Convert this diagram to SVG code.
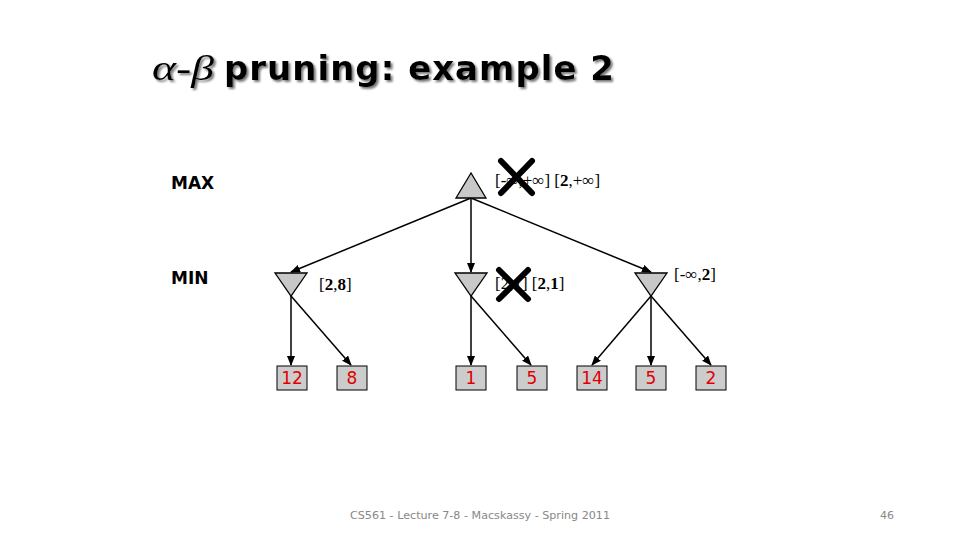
<svg xmlns="http://www.w3.org/2000/svg" width="960" height="540" viewBox="0 0 960 540">
<defs>
<marker id="ah" markerWidth="10" markerHeight="8" refX="9" refY="4" orient="auto" markerUnits="userSpaceOnUse">
<path d="M0,0 L10,4 L0,8 Z" fill="#000"/>
</marker>
<filter id="sh" x="-10%" y="-30%" width="120%" height="160%">
<feGaussianBlur in="SourceAlpha" stdDeviation="1"/>
<feOffset dx="2" dy="2" result="b"/>
<feFlood flood-color="#777"/>
<feComposite in2="b" operator="in" result="s"/>
<feMerge><feMergeNode in="s"/><feMergeNode in="SourceGraphic"/></feMerge>
</filter>
</defs>
<style>
.edge{stroke:#000;stroke-width:1.5;fill:none;marker-end:url(#ah)}
.tri{fill:#c8c8c8;stroke:#000;stroke-width:1.3}
.box{fill:#cccccc;stroke:#000;stroke-width:1}
.leaf{font-family:"DejaVu Sans",Verdana,sans-serif;font-size:17px;fill:#e00000;text-anchor:middle}
.lbl{font-family:"Liberation Serif","Times New Roman",serif;font-size:17px;fill:#000}
.side{font-family:"DejaVu Sans",Verdana,sans-serif;font-weight:bold;font-size:17px;fill:#000}
.x{stroke:#000;stroke-width:6;stroke-linecap:round}
.foot{font-family:"DejaVu Sans",Verdana,sans-serif;font-size:11px;fill:#888}
</style>
<rect width="960" height="540" fill="#fff"/>
<g id="title" filter="url(#sh)">
<text x="152" y="80" font-family="Liberation Serif,serif" font-style="italic" font-size="36" textLength="62" lengthAdjust="spacingAndGlyphs" fill="#000">α-β</text>
<text x="224" y="80" font-family="DejaVu Sans,Verdana,sans-serif" font-weight="bold" font-size="34" textLength="390" fill="#000">pruning: example 2</text>
</g>
<text class="side" x="171" y="189">MAX</text>
<text class="side" x="171" y="284">MIN</text>
<g id="connectors">
<line class="edge" x1="471" y1="198" x2="291" y2="272"/>
<line class="edge" x1="471" y1="198" x2="471" y2="272"/>
<line class="edge" x1="471" y1="198" x2="651" y2="272"/>
<line class="edge" x1="291" y1="296" x2="291" y2="365"/>
<line class="edge" x1="291" y1="296" x2="351" y2="365"/>
<line class="edge" x1="471" y1="296" x2="471" y2="365"/>
<line class="edge" x1="471" y1="296" x2="531" y2="365"/>
<line class="edge" x1="651" y1="296" x2="592" y2="365"/>
<line class="edge" x1="651" y1="296" x2="651" y2="365"/>
<line class="edge" x1="651" y1="296" x2="711" y2="365"/>
</g>
<g id="root">
<polygon class="tri" points="471,173 456,198 486,198"/>
<text class="lbl" x="495" y="186">[-∞,+∞] [<tspan font-weight="bold">2</tspan>,+∞]</text>
<line class="x" x1="501" y1="161" x2="532" y2="193"/>
<line class="x" x1="532" y1="161" x2="501" y2="193"/>
</g>
<g id="min1">
<polygon class="tri" points="275,273 307,273 291,296"/>
<text class="lbl" x="319" y="290">[<tspan font-weight="bold">2</tspan>,<tspan font-weight="bold">8</tspan>]</text>
</g>
<g id="min2">
<polygon class="tri" points="455,273 487,273 471,296"/>
<text class="lbl" x="495" y="289">[2,1] [<tspan font-weight="bold">2</tspan>,<tspan font-weight="bold">1</tspan>]</text>
<line class="x" x1="499" y1="270" x2="528" y2="299"/>
<line class="x" x1="528" y1="270" x2="499" y2="299"/>
</g>
<g id="min3">
<polygon class="tri" points="635,273 667,273 651,296"/>
<text class="lbl" x="674" y="280">[-∞,<tspan font-weight="bold">2</tspan>]</text>
</g>
<g id="leaf1"><rect class="box" x="277" y="366" width="30" height="24"/><text class="leaf" x="292" y="384">12</text></g>
<g id="leaf2"><rect class="box" x="337" y="366" width="30" height="24"/><text class="leaf" x="352" y="384">8</text></g>
<g id="leaf3"><rect class="box" x="456" y="366" width="30" height="24"/><text class="leaf" x="471" y="384">1</text></g>
<g id="leaf4"><rect class="box" x="517" y="366" width="30" height="24"/><text class="leaf" x="532" y="384">5</text></g>
<g id="leaf5"><rect class="box" x="577" y="366" width="30" height="24"/><text class="leaf" x="592" y="384">14</text></g>
<g id="leaf6"><rect class="box" x="636" y="366" width="30" height="24"/><text class="leaf" x="651" y="384">5</text></g>
<g id="leaf7"><rect class="box" x="696" y="366" width="30" height="24"/><text class="leaf" x="711" y="384">2</text></g>
<text class="foot" x="350" y="519" textLength="260" lengthAdjust="spacingAndGlyphs">CS561 - Lecture 7-8 - Macskassy - Spring 2011</text>
<text class="foot" x="880" y="519">46</text>
</svg>
